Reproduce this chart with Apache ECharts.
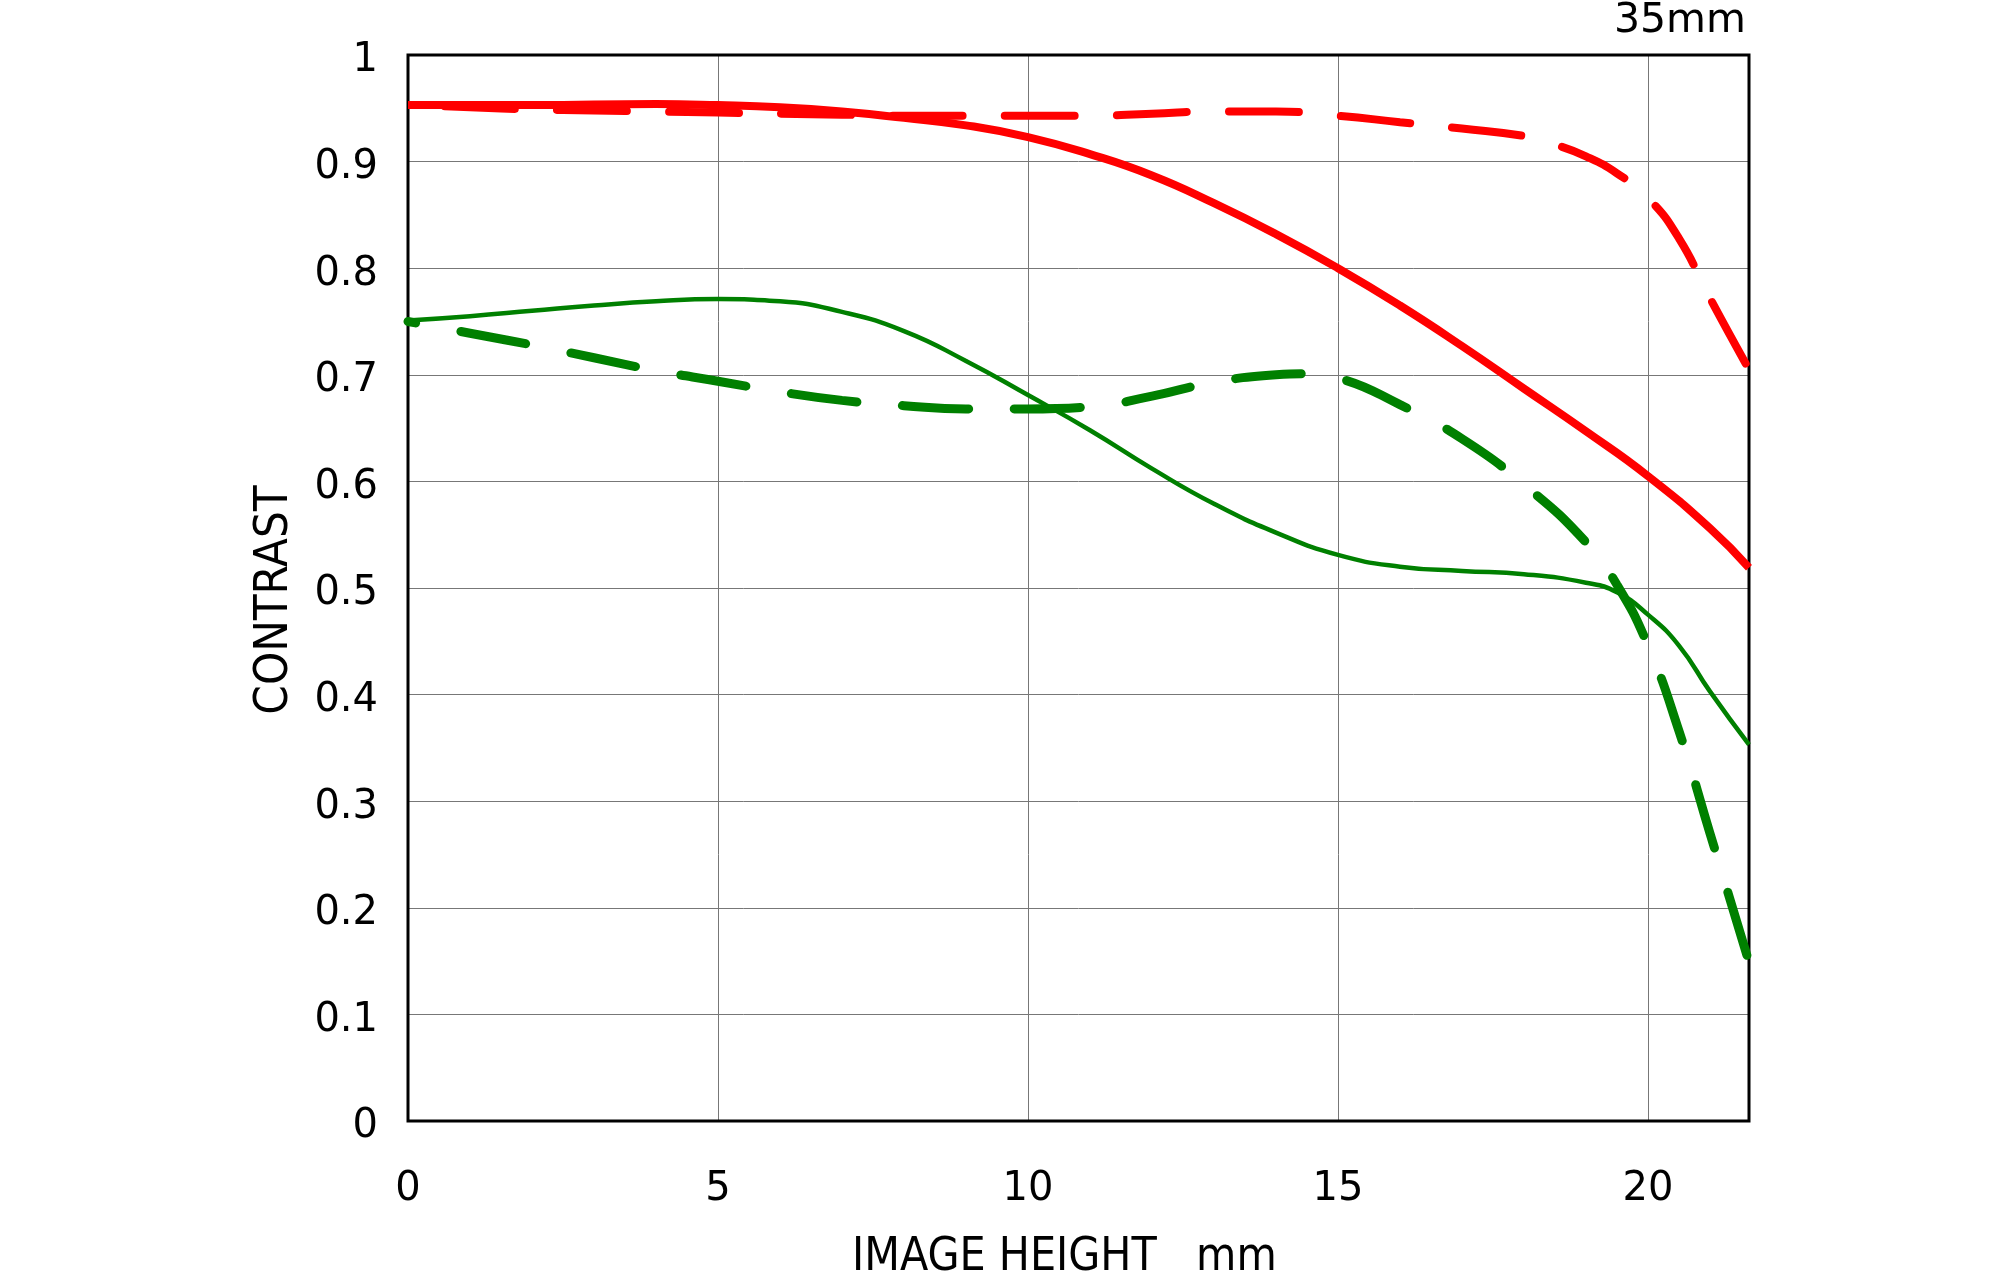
<!DOCTYPE html>
<html>
<head>
<meta charset="utf-8">
<script src="https://cdn.jsdelivr.net/npm/echarts@6/dist/echarts.min.js"></script>
<style>
html,body{margin:0;padding:0;background:#fff;}
#chart{width:2000px;height:1272px;}
</style>
</head>
<body>
<div id="chart"></div>
<script>
// ---- data (image height in mm, contrast) ----
const redSolidX = [0, 2, 4, 5, 6, 7, 8, 9, 10, 11, 12, 13, 14, 15, 16, 17, 18, 19, 20, 21, 21.63];
const redSolidY = [0.953, 0.953, 0.954, 0.953, 0.951, 0.947, 0.941, 0.934, 0.923, 0.907, 0.887, 0.861, 0.832, 0.800, 0.765, 0.727, 0.687, 0.647, 0.605, 0.556, 0.519];

const redDashX = [0, 1, 2, 3, 4, 5, 6, 7, 8, 9, 10, 11, 12, 13, 14, 15, 16, 17, 18, 18.5, 19, 19.5, 20, 20.5, 21, 21.63];
const redDashY = [0.953, 0.951, 0.949, 0.948, 0.947, 0.946, 0.945, 0.944, 0.943, 0.943, 0.943, 0.943, 0.945, 0.947, 0.947, 0.943, 0.937, 0.931, 0.924, 0.916, 0.905, 0.889, 0.866, 0.828, 0.772, 0.705];

const greenSolidX = [0, 1, 2, 3, 4, 5, 6, 7, 8, 9, 10, 11, 12, 13, 14, 15, 16, 17, 18, 19, 19.5, 20, 20.5, 21, 21.63];
const greenSolidY = [0.751, 0.755, 0.760, 0.765, 0.769, 0.771, 0.769, 0.759, 0.741, 0.713, 0.681, 0.648, 0.612, 0.579, 0.552, 0.531, 0.520, 0.516, 0.513, 0.505, 0.496, 0.475, 0.446, 0.403, 0.353];

const greenDashX = [0, 1, 2, 3, 4, 5, 6, 7, 8, 9, 10, 11, 12, 13, 14, 14.5, 15, 16, 17, 18, 19, 19.5, 20, 20.5, 21, 21.63];
const greenDashY = [0.750, 0.739, 0.728, 0.716, 0.704, 0.694, 0.684, 0.676, 0.671, 0.668, 0.668, 0.670, 0.680, 0.693, 0.700, 0.701, 0.697, 0.672, 0.640, 0.597, 0.543, 0.503, 0.446, 0.366, 0.270, 0.149];

const yTickLabels = ['0', '0.1', '0.2', '0.3', '0.4', '0.5', '0.6', '0.7', '0.8', '0.9', '1'];
const xTickLabels = ['0', '5', '10', '15', '20'];
const xAxisTitle = 'IMAGE HEIGHT   mm';
const yAxisTitle = 'CONTRAST';
const cornerTitle = '35mm';

function pairs(xs, ys) { return xs.map((x, i) => [x, ys[i]]); }

const FONT = 'DejaVu Sans';
const TFONT = 'DejaVu Sans Condensed';
const chart = echarts.init(document.getElementById('chart'), null, {renderer: 'canvas'});

const option = {
  animation: false,
  backgroundColor: '#fff',
  grid: {
    show: true, z: 1,
    left: 408, right: 251, top: 55, bottom: 151,
    borderColor: '#000', borderWidth: 3,
    backgroundColor: 'transparent'
  },
  xAxis: {
    type: 'value', min: 0, max: 21.63, interval: 5,
    axisLine: {show: false}, axisTick: {show: false},
    axisLabel: {
      showMaxLabel: false, margin: 49, color: '#000',
      fontFamily: FONT, fontSize: 40,
      formatter: v => { const i = Math.round(v / 5); return (Math.abs(v - i * 5) < 1e-6 && xTickLabels[i] !== undefined) ? xTickLabels[i] : ''; }
    },
    splitLine: {show: true, lineStyle: {color: '#777', width: 1}}
  },
  yAxis: {
    type: 'value', min: 0, max: 1, interval: 0.1,
    axisLine: {show: false}, axisTick: {show: false},
    axisLabel: {
      margin: 30, color: '#000', fontFamily: FONT, fontSize: 40,
      verticalAlign: 'top', lineHeight: 12,
      formatter: v => yTickLabels[Math.round(v * 10)]
    },
    splitLine: {show: true, lineStyle: {color: '#777', width: 1}}
  },
  graphic: [
    {type: 'text', right: 2000 - 1746, top: 1, z: 10,
     style: {text: cornerTitle, font: '41px "' + FONT + '"', fill: '#000'}},
    {type: 'text', x: 275, y: 600, rotation: Math.PI / 2, z: 10,
     style: {text: yAxisTitle, font: '47px "' + TFONT + '"', fill: '#000', textAlign: 'center', textVerticalAlign: 'middle'}},
    {type: 'text', x: 852, y: 1235, z: 10,
     style: {text: xAxisTitle, font: '46px "' + TFONT + '"', fill: '#000', textAlign: 'left', textVerticalAlign: 'top'}}
  ],
  series: [
    {type: 'line', name: 'green solid', data: pairs(greenSolidX, greenSolidY), smooth: 0.5,
     showSymbol: false, symbol: 'none', z: 3,
     lineStyle: {color: '#008000', width: 4.5, cap: 'butt'}},
    {type: 'line', name: 'green dashed', data: pairs(greenDashX, greenDashY), smooth: 0.5,
     showSymbol: false, symbol: 'none', z: 4,
     lineStyle: {color: '#008000', width: 9, type: [66, 46], dashOffset: 58, cap: 'round'}},
    {type: 'line', name: 'red solid', data: pairs(redSolidX, redSolidY), smooth: 0.5,
     showSymbol: false, symbol: 'none', z: 5,
     lineStyle: {color: '#ff0000', width: 8, cap: 'butt'}},
    {type: 'line', name: 'red dashed', data: pairs(redDashX, redDashY), smooth: 0.5,
     showSymbol: false, symbol: 'none', z: 6,
     lineStyle: {color: '#ff0000', width: 8, type: [70, 42], dashOffset: 75, cap: 'round'}}
  ]
};
chart.setOption(option);
</script>
</body>
</html>
